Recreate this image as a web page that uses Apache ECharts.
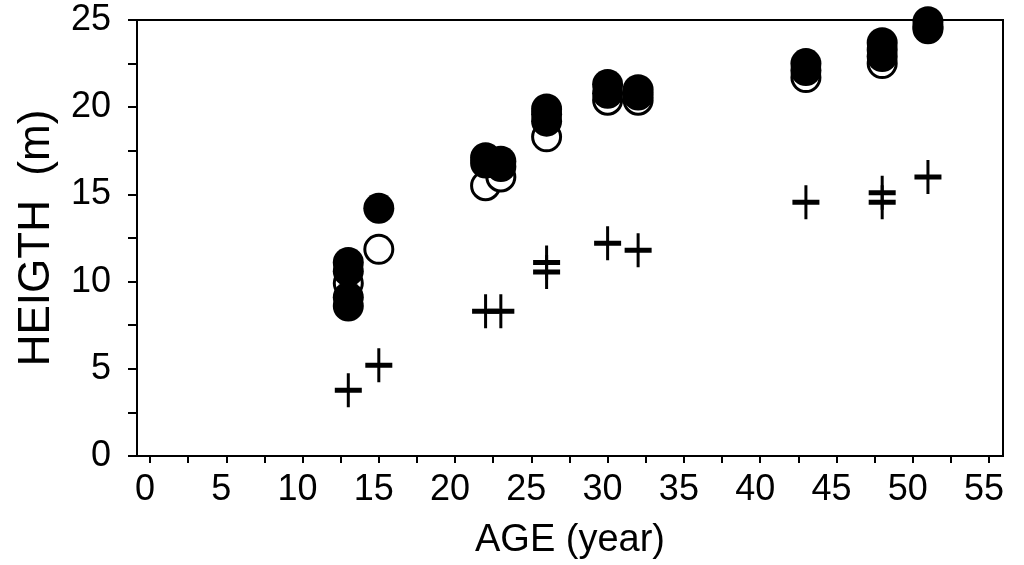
<!DOCTYPE html>
<html>
<head>
<meta charset="utf-8">
<script src="https://cdn.jsdelivr.net/npm/echarts@6/dist/echarts.min.js"></script>
<style>html,body{margin:0;padding:0;background:#fff}#c{width:1024px;height:565px}</style>
</head>
<body>
<div id="c"></div>
<script>
// Data: [age (year), height (m)]
const filledPoints = [
  [13, 11.1], [13, 10.6], [13, 9.1], [13, 8.6],
  [15, 14.2],
  [22, 17.1], [22, 16.8], [23, 16.9], [23, 16.6],
  [26, 19.9], [26, 19.6], [26, 19.2],
  [30, 21.3], [30, 20.8], [32, 21.0], [32, 20.7],
  [43, 22.5], [43, 22.1],
  [48, 23.7], [48, 23.3], [48, 22.9],
  [51, 24.9], [51, 24.6]
];
const openPoints = [
  [13, 9.9],
  [15, 11.85],
  [22, 15.5], [23, 16.0],
  [26, 18.3],
  [30, 20.4], [32, 20.4],
  [43, 21.7],
  [48, 22.5],
  [51, 24.5]
];
const plusPoints = [
  [13, 3.77], [15, 5.2],
  [22, 8.3], [23, 8.3],
  [26, 11.1], [26, 10.55],
  [30, 12.2], [32, 11.8],
  [43, 14.55],
  [48, 15.1], [48, 14.55],
  [51, 16.0]
];
const xTickValues = [0, 2.5, 5, 7.5, 10, 12.5, 15, 17.5, 20, 22.5, 25, 27.5, 30, 32.5, 35, 37.5, 40, 42.5, 45, 47.5, 50, 52.5, 55];
const xLabelValues = [0, 5, 10, 15, 20, 25, 30, 35, 40, 45, 50, 55];
const yTickValues = [0, 2.5, 5, 7.5, 10, 12.5, 15, 17.5, 20, 22.5, 25];
const yLabelValues = [0, 5, 10, 15, 20, 25];
const xTitle = 'AGE (year)';
const yTitle = 'HEIGTH  (m)';

const FONT = '"Liberation Sans", Arial, sans-serif';
const plusPath = 'path://M12,0H15V14.5H27V19.5H15V34H12V19.5H0V14.5H12Z';

const chart = echarts.init(document.getElementById('c'), null, {renderer: 'canvas'});
chart.setOption({
  animation: false,
  backgroundColor: '#fff',
  grid: {left: 137, right: 21, top: 20, bottom: 107, show: true, borderColor: '#000', borderWidth: 2, backgroundColor: 'transparent'},
  xAxis: {
    type: 'value', min: -0.852, max: 55.92,
    name: xTitle, nameLocation: 'middle', nameGap: 66,
    nameTextStyle: {fontFamily: FONT, fontSize: 38, color: '#000'},
    axisLine: {show: true, onZero: false, lineStyle: {color: '#000', width: 2}},
    axisTick: {show: true, inside: false, length: 7, lineStyle: {color: '#000', width: 2}, customValues: xTickValues},
    axisLabel: {color: '#000', fontFamily: FONT, fontSize: 36, margin: 16, customValues: xLabelValues, padding: [0, 10, 0, 0]},
    splitLine: {show: false}
  },
  yAxis: {
    type: 'value', min: 0, max: 25,
    name: yTitle, nameLocation: 'middle', nameGap: 78, nameRotate: 90,
    nameTextStyle: {fontFamily: FONT, fontSize: 44, color: '#000'},
    axisLine: {show: true, onZero: false, lineStyle: {color: '#000', width: 2}},
    axisTick: {show: true, inside: false, length: 9, lineStyle: {color: '#000', width: 2}, customValues: yTickValues},
    axisLabel: {color: '#000', fontFamily: FONT, fontSize: 36, margin: 26, customValues: yLabelValues},
    splitLine: {show: false}
  },
  series: [
    {type: 'scatter', data: openPoints, symbol: 'circle', symbolSize: 28,
     itemStyle: {color: '#fff', borderColor: '#000', borderWidth: 3, opacity: 1}, z: 2},
    {type: 'scatter', data: filledPoints, symbol: 'circle', symbolSize: 31,
     itemStyle: {color: '#000', opacity: 1}, z: 3},
    {type: 'scatter', data: plusPoints, symbol: plusPath, symbolSize: [27, 34],
     itemStyle: {color: '#000', opacity: 1}, z: 4}
  ]
});
</script>
</body>
</html>
